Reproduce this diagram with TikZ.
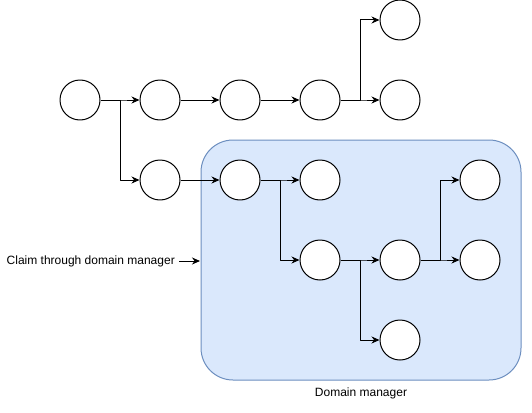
\documentclass[tikz,border=0pt]{standalone}
\usepackage{fontspec}
\setmainfont{Liberation Sans}
\usetikzlibrary{arrows.meta}
\begin{document}
\begin{tikzpicture}[x=1pt, y=-1pt, font=\fontsize{12}{14}\selectfont, line join=round, >={Stealth[length=8pt,width=7pt]}]
		\tikzset{
		circ/.style={circle, draw=black, fill=white, line width=1pt, minimum size=40pt, inner sep=0pt},
		conn/.style={->, black, line width=1pt},
		dombox/.style={draw={rgb,255:red,108;green,142;blue,191}, fill={rgb,255:red,218;green,232;blue,252}, rounded corners=32pt, line width=1pt}
		}
		\useasboundingbox (0,0) rectangle (532,412);
		% domain manager area
		\draw[dombox] (201,140) rectangle (521,380);
		\node (dmlabel) at (361,393) {Domain manager};
		% states
		\foreach \name/\x/\y in {a/80/100, b/160/100, c/240/100, d/320/100, e/400/100, f/400/20,
		g/160/180, h/240/180, i/320/180, j/320/260, k/400/260, l/400/340, m/480/180, n/480/260}{
		\node[circ] (\name) at (\x,\y) {};
		}
		% transitions
		\draw[conn] (a.east) -- ++(20,0) |- (b.west);
		\draw[conn] (a.east) -- ++(20,0) |- (g.west);
		\draw[conn] (b) -- (c);
		\draw[conn] (c) -- (d);
		\draw[conn] (d.east) -- ++(20,0) |- (e.west);
		\draw[conn] (d.east) -- ++(20,0) |- (f.west);
		\draw[conn] (g) -- (h);
		\draw[conn] (h.east) -- ++(20,0) |- (i.west);
		\draw[conn] (h.east) -- ++(20,0) |- (j.west);
		\draw[conn] (j.east) -- ++(20,0) |- (k.west);
		\draw[conn] (j.east) -- ++(20,0) |- (l.west);
		\draw[conn] (k.east) -- ++(20,0) |- (m.west);
		\draw[conn] (k.east) -- ++(20,0) |- (n.west);
		% claim
		\node[anchor=east, inner sep=0pt] (claim) at (175,261) {Claim through domain manager};
		\coordinate (claimend) at (200,261);
		\draw[conn] (claim.east) ++(4,0) -- (claimend);
	\end{tikzpicture}
\end{document}
